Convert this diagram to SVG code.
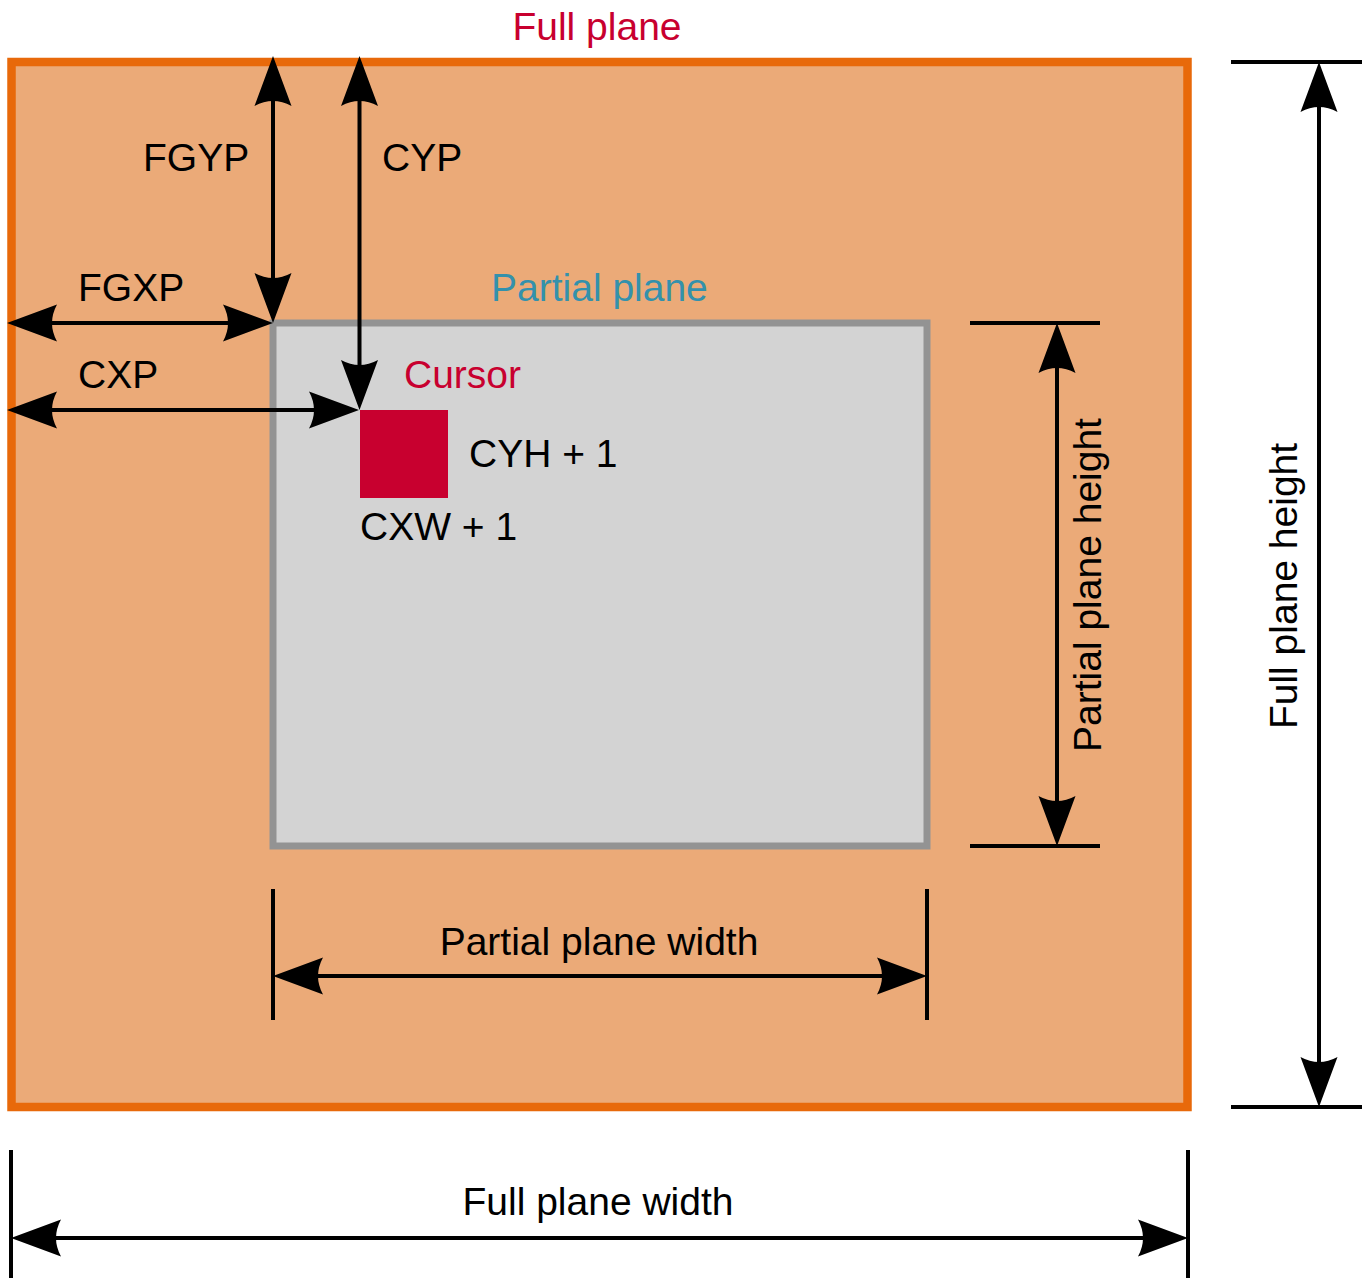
<svg xmlns="http://www.w3.org/2000/svg" width="1367" height="1278" viewBox="0 0 1367 1278">
<style>
text{font-family:"Liberation Sans",Arial,sans-serif;font-size:39px;fill:#000}
.red{fill:#C8002F}
.teal{fill:#3391AC}
.dim{stroke:#000;stroke-width:4;fill:none}
.arr{marker-start:url(#ah);marker-end:url(#ah)}
</style>
<defs>
<marker id="ah" markerUnits="userSpaceOnUse" orient="auto-start-reverse" refX="0" refY="0" markerWidth="60" markerHeight="40" viewBox="-45 -20 60 40" overflow="visible">
<path d="M10,0 L-40,-18.5 Q-30,0 -40,18.5 Z" fill="#000"/>
</marker>
</defs>
<g id="full-plane">
<rect x="11.5" y="62" width="1176" height="1045" fill="#EBAA78" stroke="#E8690A" stroke-width="8.5"/>
<text x="597" y="40" text-anchor="middle" class="red">Full plane</text>
</g>
<g id="partial-plane">
<rect x="273" y="323" width="654" height="523" fill="#D3D3D3" stroke="#939393" stroke-width="7"/>
<text x="491" y="301" class="teal">Partial plane</text>
</g>
<g id="cursor">
<rect x="360" y="410" width="88" height="88" fill="#C8002F"/>
<text x="404" y="388" class="red">Cursor</text>
<text x="469" y="467">CYH + 1</text>
<text x="360" y="540">CXW + 1</text>
</g>
<g id="connectors">
<line class="dim arr" x1="17" y1="323" x2="263" y2="323"/>
<line class="dim arr" x1="273" y1="66" x2="273" y2="313"/>
<line class="dim arr" x1="359.5" y1="66" x2="359.5" y2="400"/>
<line class="dim arr" x1="17" y1="410" x2="349" y2="410"/>
<line class="dim" x1="970" y1="323" x2="1100" y2="323"/>
<line class="dim" x1="970" y1="846" x2="1100" y2="846"/>
<line class="dim arr" x1="1057" y1="333" x2="1057" y2="836"/>
<line class="dim" x1="1231" y1="62" x2="1362" y2="62"/>
<line class="dim" x1="1231" y1="1107" x2="1362" y2="1107"/>
<line class="dim arr" x1="1319" y1="72" x2="1319" y2="1097"/>
<line class="dim" x1="273" y1="889" x2="273" y2="1020"/>
<line class="dim" x1="927" y1="889" x2="927" y2="1020"/>
<line class="dim arr" x1="283" y1="976" x2="917" y2="976"/>
<line class="dim" x1="11" y1="1150" x2="11" y2="1278"/>
<line class="dim" x1="1188" y1="1150" x2="1188" y2="1278"/>
<line class="dim arr" x1="21" y1="1238" x2="1178" y2="1238"/>
</g>
<g id="labels">
<text x="143" y="171">FGYP</text>
<text x="382" y="171">CYP</text>
<text x="78" y="301">FGXP</text>
<text x="78" y="388">CXP</text>
<text x="599" y="955" text-anchor="middle">Partial plane width</text>
<text x="598" y="1215" text-anchor="middle">Full plane width</text>
<text transform="translate(1101,585) rotate(-90)" text-anchor="middle">Partial plane height</text>
<text transform="translate(1297,586) rotate(-90)" text-anchor="middle">Full plane height</text>
</g>
</svg>
